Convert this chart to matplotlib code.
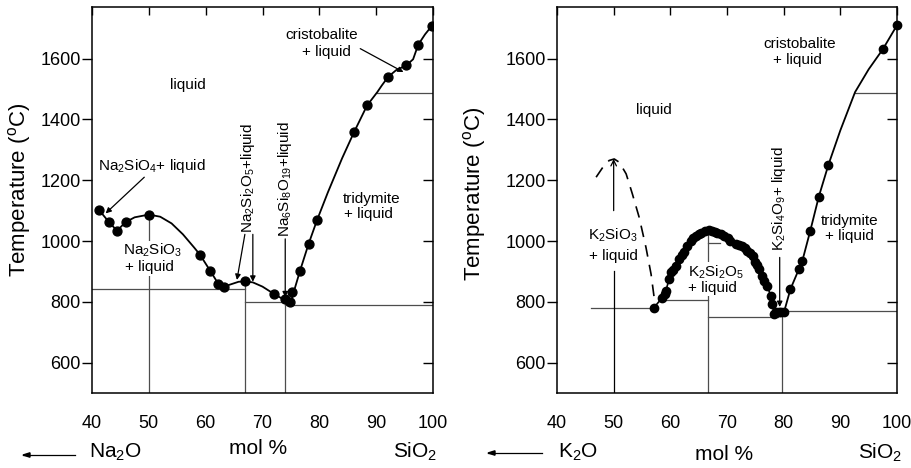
import numpy as np
import matplotlib.pyplot as plt

plt.rcParams['font.family'] = ['Liberation Sans', 'DejaVu Sans']
plt.rcParams['mathtext.fontset'] = 'custom'
plt.rcParams['mathtext.rm'] = 'Liberation Sans'
plt.rcParams['mathtext.it'] = 'Liberation Sans:italic'
plt.rcParams['mathtext.default'] = 'regular'

# ---- Na2O - SiO2 ----
na_pts_x = [41.2, 43.0, 44.4, 45.9, 50.0, 59.0, 60.8, 62.2, 63.2, 66.9, 72.1, 74.0,
            74.8, 75.2, 76.6, 78.1, 79.6, 86.1, 88.4, 92.1, 95.3, 97.4, 99.8]
na_pts_T = [1103, 1062, 1034, 1062, 1087, 955, 902, 860, 850, 867, 825, 809,
            798, 831, 902, 990, 1069, 1358, 1446, 1540, 1578, 1646, 1708]
na_liq_x = [41.2, 43.0, 44.4, 45.9, 47.5, 50.0, 52.0, 54.0, 56.0, 58.0, 59.0, 60.8,
            62.2, 63.2, 64.5, 65.8, 66.9, 68.3, 70.0, 72.1, 73.5, 74.6, 75.0, 75.3,
            76.6, 78.1, 79.6, 81.5, 84.0, 86.1, 88.4, 90.2, 91.0, 92.1, 93.5, 95.3,
            96.5, 97.4, 98.6, 99.8]
na_liq_T = [1103, 1062, 1034, 1062, 1078, 1087, 1080, 1058, 1022, 978, 955, 902,
            860, 850, 858, 866, 867, 864, 850, 825, 810, 801, 796, 820,
            902, 990, 1069, 1160, 1272, 1358, 1446, 1490, 1512, 1540, 1562, 1578,
            1598, 1646, 1680, 1708]

# ---- K2O - SiO2 ----
k_dome_x = [57.1, 58.6, 59.0, 59.2, 59.8, 60.1, 60.4, 61.0, 61.5, 62.0, 62.4, 63.0,
            63.6, 64.0, 64.5, 65.0, 65.4, 66.2, 66.8, 67.4, 67.9, 68.3, 68.9, 69.5,
            70.1, 70.6, 71.5, 72.1, 72.7, 73.1, 73.6, 74.1, 74.5, 75.0, 75.3, 75.6,
            76.2, 76.6, 77.1, 77.7, 78.0, 78.3]
k_dome_T = [781, 814, 825, 836, 875, 897, 905, 919, 941, 955, 963, 985,
            1001, 1010, 1018, 1024, 1028, 1034, 1035, 1034, 1031, 1028, 1024, 1018,
            1010, 1001, 990, 987, 985, 978, 968, 960, 952, 930, 920, 908,
            886, 870, 853, 820, 792, 760]
k_eut_x = [78.6, 79.1, 79.6, 80.0]
k_eut_T = [765, 765, 765, 765]
k_sil_pts_x = [81.2, 82.7, 83.3, 84.7, 86.2, 87.9, 97.5, 100.0]
k_sil_pts_T = [842, 908, 935, 1034, 1146, 1251, 1631, 1710]
k_sil_liq_x = [80.0, 81.2, 82.7, 83.3, 84.7, 86.2, 87.9, 90.0, 92.6, 95.0, 97.5, 100.0]
k_sil_liq_T = [762, 842, 908, 935, 1034, 1146, 1251, 1364, 1490, 1565, 1631, 1710]
k_dash_x = [46.9, 48.1, 49.2, 50.1, 51.0, 52.2, 53.3, 54.5, 55.7, 56.6, 57.3]
k_dash_T = [1210, 1243, 1265, 1270, 1259, 1221, 1155, 1078, 979, 891, 792]

xticks = [40, 50, 60, 70, 80, 90, 100]
yticks = [600, 800, 1000, 1200, 1400, 1600]

W, H = 911, 468
fig = plt.figure(figsize=(W / 100, H / 100), dpi=100)
axL = fig.add_axes([92 / W, 1 - 393 / H, (433 - 92) / W, (393 - 7) / H])
axR = fig.add_axes([557 / W, 1 - 393 / H, (897 - 557) / W, (393 - 7) / H])

thin = dict(color='0.3', lw=0.9)
arr = dict(arrowstyle='-|>', color='k', lw=0.9, mutation_scale=8, shrinkA=0, shrinkB=0)
wbox = dict(facecolor='white', edgecolor='none', pad=1)

for ax in (axL, axR):
    ax.set_xlim(40, 100)
    ax.set_ylim(500, 1770)
    ax.set_xticks(xticks)
    ax.set_yticks(yticks)
    for s in ax.spines.values():
        s.set_linewidth(1.1)
    ax.tick_params(axis='y', left=True, right=True, direction='out',
                   length=7, width=1.0, labelsize=13, pad=1)
    ax.tick_params(axis='x', top=True, bottom=False, direction='in', length=6,
                   width=1.0, labelsize=13, pad=16)
    # inward ticks on the right side
    for t in ax.yaxis.get_major_ticks():
        t.tick2line.set_marker(0)
        t.tick2line.set_markersize(7)

# ---- left panel ----
ax = axL
ax.plot([40, 66.9], [842, 842], **thin)
ax.plot([66.9, 74.0], [800, 800], **thin)
ax.plot([74.0, 100], [791, 791], **thin)
ax.plot([90.2, 100], [1487, 1487], **thin)
ax.plot([50, 50], [500, 1087], **thin)
ax.plot([66.9, 66.9], [500, 867], **thin)
ax.plot([74.0, 74.0], [500, 800], **thin)
ax.plot(na_liq_x, na_liq_T, color='k', lw=1.3)
ax.plot(na_pts_x, na_pts_T, 'o', color='k', ms=6.4)

ax.text(56.8, 1514, 'liquid', fontsize=11, ha='center', va='center')
ax.text(50.6, 1246, 'Na$_2$SiO$_4$+ liquid', fontsize=11, ha='center', va='center')
ax.annotate('', xy=(42.4, 1091), xytext=(49.2, 1210), arrowprops=arr)
ax.text(50.6, 968, 'Na$_2$SiO$_3$', fontsize=11, ha='center', va='center', bbox=wbox)
ax.text(50.1, 913, '+ liquid', fontsize=11, ha='center', va='center', bbox=wbox)
ax.text(80.4, 1677, 'cristobalite', fontsize=11, ha='center', va='center')
ax.text(81.3, 1622, '+ liquid', fontsize=11, ha='center', va='center')
ax.annotate('', xy=(94.8, 1556), xytext=(87.2, 1633), arrowprops=arr)
ax.text(89.2, 1138, 'tridymite', fontsize=11, ha='center', va='center')
ax.text(88.6, 1089, '+ liquid', fontsize=11, ha='center', va='center')
ax.text(67.5, 1028, 'Na$_2$Si$_2$O$_5$+liquid', fontsize=11, rotation=90,
        ha='center', va='bottom')
ax.annotate('', xy=(65.5, 872), xytext=(66.9, 1022), arrowprops=arr)
ax.annotate('', xy=(68.3, 866), xytext=(68.3, 1022), arrowprops=arr)
ax.text(74.0, 1012, 'Na$_6$Si$_8$O$_{19}$+liquid', fontsize=11, rotation=90,
        ha='center', va='bottom')
ax.annotate('', xy=(74.0, 815), xytext=(74.0, 1007), arrowprops=arr)

# ---- right panel ----
ax = axR
ax.plot([46.0, 57.2], [779, 779], **thin)
ax.plot([58.4, 66.6], [806, 806], **thin)
ax.plot([66.6, 79.0], [751, 751], **thin)
ax.plot([66.6, 68.8], [995, 995], **thin)
ax.plot([79.7, 100], [770, 770], **thin)
ax.plot([92.6, 100], [1487, 1487], **thin)
ax.plot([66.6, 66.6], [500, 1034], **thin)
ax.plot([79.7, 79.7], [500, 770], **thin)
ax.plot([50, 50], [500, 903], color='k', lw=0.9)
ax.annotate('', xy=(50, 1270), xytext=(50, 1100),
            arrowprops=dict(arrowstyle='->', color='k', lw=0.9, mutation_scale=10,
                            shrinkA=0, shrinkB=0))
ax.plot(k_dash_x, k_dash_T, color='k', lw=1.2, dashes=(7, 5))
ax.plot(k_dome_x, k_dome_T, 'o-', color='k', lw=1.2, ms=6)
ax.plot(k_eut_x, k_eut_T, 'o', color='k', ms=6)
ax.plot(k_sil_liq_x, k_sil_liq_T, color='k', lw=1.3)
ax.plot(k_sil_pts_x, k_sil_pts_T, 'o', color='k', ms=6, clip_on=False)

ax.text(57.1, 1430, 'liquid', fontsize=11, ha='center', va='center')
ax.text(82.8, 1649, 'cristobalite', fontsize=11, ha='center', va='center')
ax.text(82.5, 1594, '+ liquid', fontsize=11, ha='center', va='center')
ax.text(91.6, 1067, 'tridymite', fontsize=11, ha='center', va='center')
ax.text(91.6, 1018, '+ liquid', fontsize=11, ha='center', va='center')
ax.text(49.8, 1018, 'K$_2$SiO$_3$', fontsize=11, ha='center', va='center')
ax.text(50.0, 952, '+ liquid', fontsize=11, ha='center', va='center')
ax.text(68.0, 897, 'K$_2$Si$_2$O$_5$', fontsize=11, ha='center', va='center', bbox=wbox)
ax.text(67.4, 847, '+ liquid', fontsize=11, ha='center', va='center', bbox=wbox)
ax.text(79.1, 968, 'K$_2$Si$_4$O$_9$+ liquid', fontsize=11, rotation=90,
        ha='center', va='bottom')
ax.annotate('', xy=(79.3, 783), xytext=(79.3, 946), arrowprops=arr)

# ---- outer labels ----
def ftext(px, py, s, **kw):
    fig.text(px / W, 1 - py / H, s, ha='center', va='center', **kw)

ftext(20, 190, 'Temperature ($^{o}$C)', fontsize=16, rotation=90)
ftext(475, 194, 'Temperature ($^{o}$C)', fontsize=16, rotation=90)
ftext(115, 452, 'Na$_2$O', fontsize=15)
ftext(258, 448, 'mol %', fontsize=15)
ftext(415, 452, 'SiO$_2$', fontsize=15)
ftext(578, 452, 'K$_2$O', fontsize=15)
ftext(724, 455, 'mol %', fontsize=15)
ftext(880, 453, 'SiO$_2$', fontsize=15)
for x0, x1, y in [(75, 23, 455), (542, 488, 453)]:
    fig.add_artist(plt.Line2D([x0 / W, x1 / W], [1 - y / H, 1 - y / H], color='k', lw=0.9))
    fig.patches.append(plt.Polygon([[x1 / W, 1 - y / H], [(x1 + 7) / W, 1 - (y - 2.2) / H],
                                    [(x1 + 7) / W, 1 - (y + 2.2) / H]],
                                   closed=True, color='k', transform=fig.transFigure))

fig.savefig('out.png', dpi=100)
